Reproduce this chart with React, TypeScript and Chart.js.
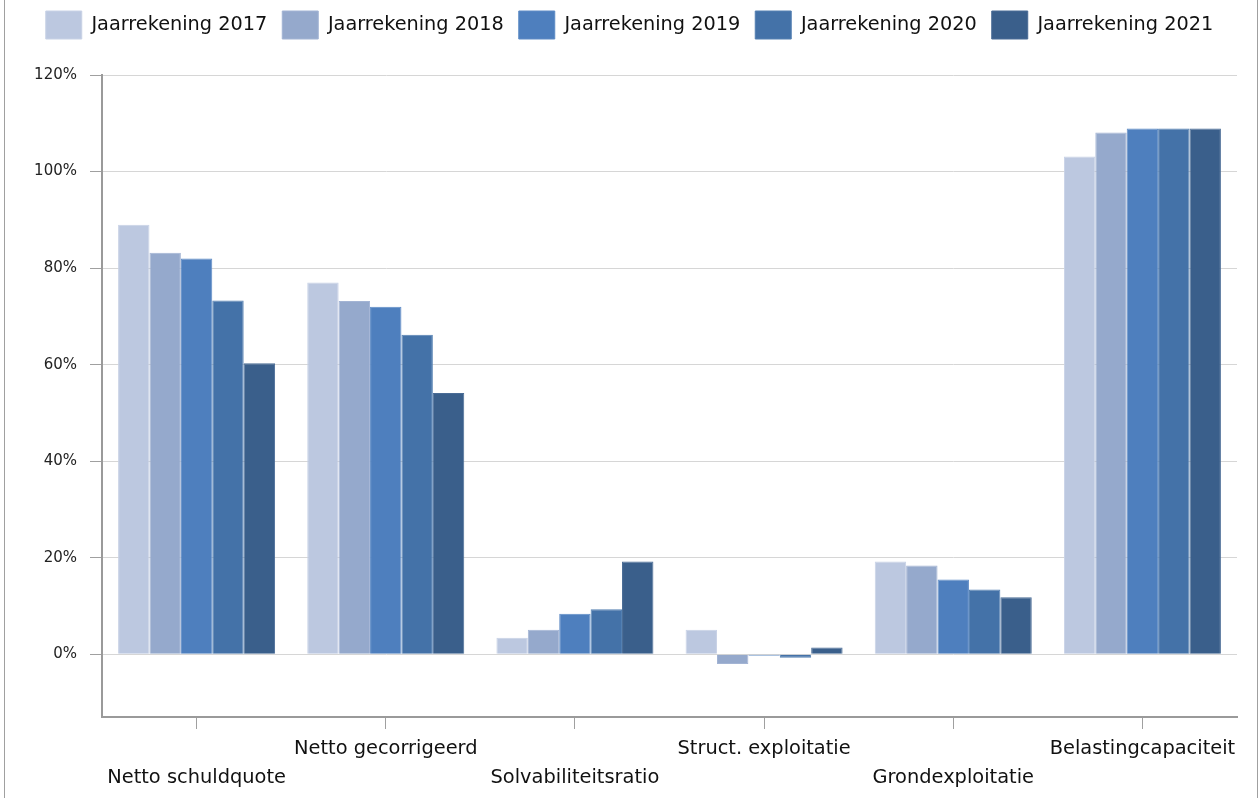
import React, { useEffect, useRef } from "react";
import { Chart, registerables } from "chart.js";

Chart.register(...registerables);

const categories = [
  "Netto schuldquote",
  "Netto gecorrigeerd",
  "Solvabiliteitsratio",
  "Struct. exploitatie",
  "Grondexploitatie",
  "Belastingcapaciteit",
];

const seriesNames = [
  "Jaarrekening 2017",
  "Jaarrekening 2018",
  "Jaarrekening 2019",
  "Jaarrekening 2020",
  "Jaarrekening 2021",
];

const values2017 = [89, 77, 3.4, 5.1, 19.2, 103.1];
const values2018 = [83.2, 73.2, 5.1, -2.0, 18.4, 108.1];
const values2019 = [82, 72, 8.4, -0.3, 15.5, 108.9];
const values2020 = [73.3, 66.2, 9.3, -0.7, 13.4, 108.9];
const values2021 = [60.3, 54.1, 19.2, 1.4, 11.8, 108.9];

const seriesColors = ["#bcc8e0", "#95a9cc", "#4e7fbe", "#4472a8", "#3a5f8b"];
const seriesBorders = ["#c8d2e6", "#a3b4d4", "#5e8bc5", "#5480b2", "#4a6c96"];

const yMin = -13;
const yMax = 120;
const yStep = 20;

export default function App() {
  const canvasRef = useRef<HTMLCanvasElement | null>(null);

  useEffect(() => {
    if (!canvasRef.current) return;
    const allValues = [values2017, values2018, values2019, values2020, values2021];
    const labels = categories.map((c, i) => (i % 2 === 0 ? ["", c] : [c]));

    const legendPlacePlugin = {
      id: "legendPlace",
      beforeLayout(chart: any) {
        const lg = chart.legend;
        if (lg && !lg._patched) {
          const orig = lg.fit.bind(lg);
          lg.fit = function () {
            orig();
            this.height = 75;
          };
          lg._patched = true;
        }
      },
      afterLayout(chart: any) {
        const lg = chart.legend;
        if (lg) {
          lg.left = 0;
          lg.right = chart.width;
          lg.width = chart.width;
          lg.top = -4;
          lg.bottom = 71;
        }
      },
    };

    const chart = new Chart(canvasRef.current, {
      type: "bar",
      data: {
        labels,
        datasets: seriesNames.map((name, i) => ({
          label: name,
          data: allValues[i],
          backgroundColor: seriesColors[i],
          borderColor: seriesBorders[i],
          borderWidth: 1,
          categoryPercentage: 0.83,
          barPercentage: 1,
        })),
      },
      options: {
        responsive: false,
        animation: false,
        devicePixelRatio: 1,
        layout: { padding: { left: 0, right: 22, top: 0, bottom: 0 } },
        plugins: {
          tooltip: { enabled: false },
          legend: {
            position: "top",
            align: "center",
            labels: {
              boxWidth: 36,
              boxHeight: 28,
              padding: 15,
              color: "#111",
              font: { family: "'DejaVu Sans'", size: 19.3 },
            },
          },
        },
        scales: {
          x: {
            grid: {
              display: true,
              drawOnChartArea: false,
              drawTicks: true,
              tickLength: 12,
              offset: false,
              tickColor: "#a0a0a0",
              tickWidth: 1,
            },
            border: { display: true, color: "#9a9a9a", width: 2 },
            ticks: {
              color: "#111",
              padding: 5,
              maxRotation: 0,
              autoSkip: false,
              font: { family: "'DejaVu Sans'", size: 19.4, lineHeight: 1.5 },
            },
            afterFit(scale: any) {
              scale.height = 81;
            },
          },
          y: {
            min: yMin,
            max: yMax,
            ticks: {
              stepSize: yStep,
              color: "#222",
              padding: 13,
              font: { family: "'DejaVu Sans'", size: 15 },
              callback: (v: any) => v + "%",
            },
            grid: {
              color: "#d6d6d6",
              lineWidth: 1,
              tickLength: 12,
              tickColor: "#a0a0a0",
            },
            border: { display: true, color: "#9a9a9a", width: 2 },
            afterBuildTicks(scale: any) {
              scale.ticks = scale.ticks.filter((t: any) => t.value >= 0);
            },
            afterFit(scale: any) {
              scale.width = 102;
            },
          },
        },
      },
      plugins: [legendPlacePlugin],
    } as any);

    return () => chart.destroy();
  }, []);

  return (
    <div
      style={{
        position: "absolute",
        left: 0,
        top: 0,
        width: 1259,
        height: 798,
        background: "#fff",
        overflow: "hidden",
      }}
    >
      <canvas ref={canvasRef} width={1259} height={798} style={{ display: "block" }} />
      <div style={{ position: "absolute", left: 4, top: 0, width: 1, height: 798, background: "#a0a0a0" }} />
      <div style={{ position: "absolute", left: 1257, top: 0, width: 1, height: 798, background: "#a0a0a0" }} />
    </div>
  );
}
